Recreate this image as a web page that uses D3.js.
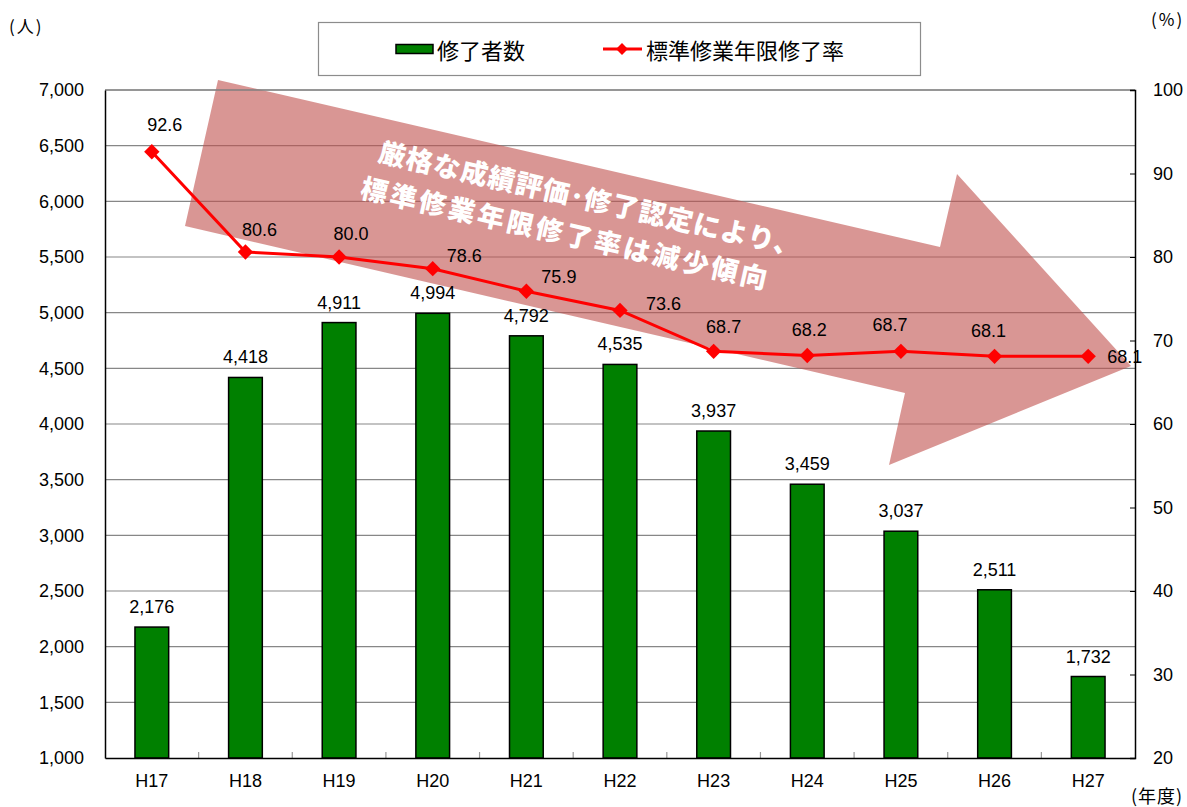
<!DOCTYPE html>
<html>
<head>
<meta charset="utf-8">
<script src="https://cdn.jsdelivr.net/npm/d3@7"></script>
<style>
  html, body { margin: 0; padding: 0; background: #fff; }
  svg { display: block; }
  .num { font-family: "Liberation Sans", Arial, sans-serif; font-size: 18px; fill: #000; }
  .jp { font-family: "Noto Sans CJK JP", sans-serif; fill: #000; }
</style>
</head>
<body>
<svg id="chart" width="1187" height="807"></svg>
<script>
// ---- data ----
const categories = ["H17","H18","H19","H20","H21","H22","H23","H24","H25","H26","H27"];
const graduates = [2176, 4418, 4911, 4994, 4792, 4535, 3937, 3459, 3037, 2511, 1732];
const completionRate = [92.6, 80.6, 80.0, 78.6, 75.9, 73.6, 68.7, 68.2, 68.7, 68.1, 68.1];
const leftTicks = [1000,1500,2000,2500,3000,3500,4000,4500,5000,5500,6000,6500,7000];
const rightTicks = [20,30,40,50,60,70,80,90,100];
const seriesNames = ["修了者数", "標準修業年限修了率"];
const annotationLines = ["厳格な成績評価･修了認定により、", "標準修業年限修了率は減少傾向"];
// label placement (style): anchor + offset from the point
const rateLabelPlacement = [
  ["middle",13,-21],["middle",14,-16],["middle",12,-17],["start",14,-7],["start",15,-8],
  ["start",26,0],["middle",10,-18],["middle",2,-20],["middle",-11,-20],["middle",-6,-19],["start",19,7]
];

// ---- layout ----
const W = 1187, H = 807;
const m = {left: 105, right: 52, top: 90, bottom: 49};
const x0 = m.left, x1 = W - m.right, y0 = H - m.bottom, y1 = m.top;
const svg = d3.select("#chart");

const x = d3.scaleBand().domain(categories).range([x0, x1]).paddingInner(0.64).paddingOuter(0.32);
const yL = d3.scaleLinear().domain([1000, 7000]).range([y0, y1]);
const yR = d3.scaleLinear().domain([20, 100]).range([y0, y1]);
const step = x.step();
const cx = d => x(d) + x.bandwidth() / 2;

// gridlines
svg.append("g").selectAll("line").data(leftTicks.filter(v => v > 1000)).join("line")
  .attr("x1", x0).attr("x2", x1)
  .attr("y1", d => yL(d)).attr("y2", d => yL(d))
  .attr("stroke", "#878787").attr("stroke-width", 1.2);

// bars
svg.append("g").selectAll("rect").data(graduates).join("rect")
  .attr("x", (d, i) => x(categories[i]))
  .attr("y", d => yL(d))
  .attr("width", x.bandwidth())
  .attr("height", d => y0 - yL(d))
  .attr("fill", "#008000").attr("stroke", "#000").attr("stroke-width", 1.5);

// bottom band-boundary ticks
svg.append("g").selectAll("line").data(categories.slice(1)).join("line")
  .attr("x1", d => cx(d) - step / 2).attr("x2", d => cx(d) - step / 2)
  .attr("y1", y0).attr("y2", y0 - 6)
  .attr("stroke", "#999").attr("stroke-width", 1.2);

// annotation arrow (semi-transparent)
const arrowPts = [[218,80],[940,247],[957,174],[1131,366],[889,465],[905,393],[185,226]];
svg.append("polygon")
  .attr("points", arrowPts.map(p => p.join(",")).join(" "))
  .attr("fill", "#C0504D").attr("fill-opacity", 0.6);

// annotation text
const ang = 12.8;
const txtSpecs = [{p:[377,161], size:27, len:432}, {p:[359,197], size:27, len:416}];
annotationLines.forEach((t, i) => {
  const s = txtSpecs[i];
  svg.append("text")
    .attr("transform", `translate(${s.p[0]},${s.p[1]}) rotate(${ang})`)
    .attr("font-family", "'Noto Sans CJK JP', sans-serif")
    .attr("font-weight", 900)
    .attr("font-size", s.size)
    .attr("fill", "#fff")
    .attr("textLength", s.len).attr("lengthAdjust", "spacing")
    .text(t);
});

// frame: top border gray
svg.append("line").attr("x1", x0).attr("x2", x1).attr("y1", y1).attr("y2", y1)
  .attr("stroke", "#878787").attr("stroke-width", 1.5);

// left axis
const gL = svg.append("g").attr("transform", `translate(${x0},0)`)
  .call(d3.axisLeft(yL).tickValues(leftTicks).tickSize(0).tickPadding(21).tickFormat(d3.format(",")));
gL.select(".domain").attr("stroke", "#000").attr("stroke-width", 1.5);
gL.selectAll("text").attr("class", "num").attr("font-size", null).attr("font-family", null);

// right axis
const gR = svg.append("g").attr("transform", `translate(${x1},0)`)
  .call(d3.axisRight(yR).tickValues(rightTicks).tickSize(-5).tickPadding(18));
gR.select(".domain").attr("stroke", "#000").attr("stroke-width", 1.5);
gR.selectAll(".tick line").attr("stroke", "#000").attr("stroke-width", 1);
gR.selectAll("text").attr("class", "num").attr("font-size", null).attr("font-family", null);

// bottom axis
const gB = svg.append("g").attr("transform", `translate(0,${y0})`)
  .call(d3.axisBottom(x).tickSize(0).tickPadding(16));
gB.select(".domain").attr("stroke", "#000").attr("stroke-width", 1.5);
gB.selectAll("text").attr("class", "num").attr("font-size", null).attr("font-family", null);

// bar labels
svg.append("g").selectAll("text").data(graduates).join("text")
  .attr("class", "num").attr("text-anchor", "middle")
  .attr("x", (d, i) => cx(categories[i]))
  .attr("y", d => yL(d) - 14)
  .text(d => d3.format(",")(d));

// rate line
const line = d3.line().x((d, i) => cx(categories[i])).y(d => yR(d));
svg.append("path").datum(completionRate).attr("d", line)
  .attr("fill", "none").attr("stroke", "#FF0000").attr("stroke-width", 3);
const diamond = d3.symbol().type(d3.symbolDiamond2).size(150);
svg.append("g").selectAll("path").data(completionRate).join("path")
  .attr("transform", (d, i) => `translate(${cx(categories[i])},${yR(d)})`)
  .attr("d", diamond).attr("fill", "#FF0000");
svg.append("g").selectAll("text").data(completionRate).join("text")
  .attr("class", "num")
  .attr("text-anchor", (d, i) => rateLabelPlacement[i][0])
  .attr("x", (d, i) => cx(categories[i]) + rateLabelPlacement[i][1])
  .attr("y", (d, i) => yR(d) + rateLabelPlacement[i][2])
  .text(d => d.toFixed(1));

// legend
svg.append("rect").attr("x", 318.5).attr("y", 22.5).attr("width", 602).attr("height", 53)
  .attr("fill", "#fff").attr("stroke", "#8c8c8c").attr("stroke-width", 1.2);
svg.append("rect").attr("x", 396).attr("y", 44.5).attr("width", 37).attr("height", 9)
  .attr("fill", "#008000").attr("stroke", "#000").attr("stroke-width", 1.5);
svg.append("text").attr("class", "jp").attr("x", 437).attr("y", 49)
  .attr("dominant-baseline", "central").attr("font-size", 22).text(seriesNames[0]);
svg.append("line").attr("x1", 603).attr("x2", 642).attr("y1", 49).attr("y2", 49)
  .attr("stroke", "#FF0000").attr("stroke-width", 3);
svg.append("path").attr("transform", "translate(622,49)")
  .attr("d", d3.symbol().type(d3.symbolDiamond2).size(90)).attr("fill", "#FF0000");
svg.append("text").attr("class", "jp").attr("x", 646).attr("y", 49)
  .attr("dominant-baseline", "central").attr("font-size", 22).text(seriesNames[1]);

// unit labels
svg.append("text").attr("class", "jp").attr("x", 9).attr("y", 25)
  .attr("dominant-baseline", "central").attr("font-size", 17).attr("letter-spacing", 2).text("(人)");
svg.append("text").attr("class", "jp").attr("x", 1151).attr("y", 18)
  .attr("dominant-baseline", "central").attr("font-size", 17).attr("letter-spacing", 2).text("(%)");
svg.append("text").attr("class", "jp").attr("x", 1131).attr("y", 795)
  .attr("dominant-baseline", "central").attr("font-size", 18).attr("letter-spacing", 1).text("(年度)");
</script>
</body>
</html>
